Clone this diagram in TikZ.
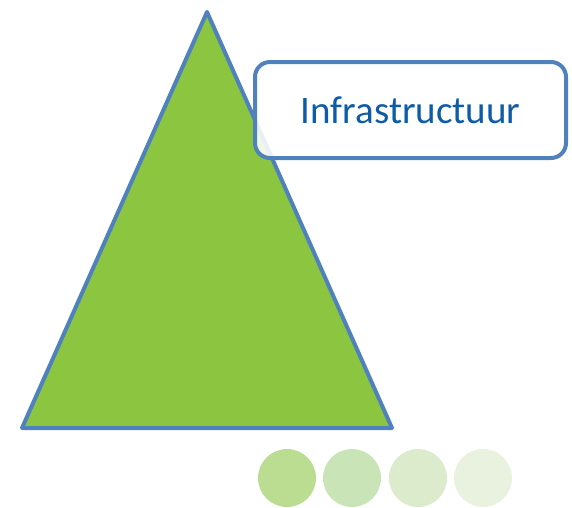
\documentclass[tikz,border=0pt]{standalone}
\usepackage{fontspec}
\setmainfont{Carlito}
\begin{document}
\begin{tikzpicture}[x=1pt,y=-1pt,
  tri/.style={draw=edgeblue,line width=4pt,fill=trigreen,line join=round},
  labelbox/.style={draw=edgeblue,line width=4pt,fill=white,fill opacity=0.88,rounded corners=15pt,minimum width=311pt,minimum height=96pt,text=textblue,text opacity=1,font=\fontsize{39}{44}\selectfont},
  dot/.style={circle,minimum size=58pt,inner sep=0pt}]
\definecolor{edgeblue}{HTML}{4F81BD}
\definecolor{trigreen}{HTML}{8CC540}
\definecolor{textblue}{HTML}{0E5CA8}
\definecolor{c1}{HTML}{BBDD92}
\definecolor{c2}{HTML}{C9E4B6}
\definecolor{c3}{HTML}{DBEBCB}
\definecolor{c4}{HTML}{E9F2DF}
\useasboundingbox (0,0) rectangle (572,507);
\coordinate (apex) at (207,12);
\coordinate (bl) at (22,428);
\coordinate (br) at (392,428);
\draw[tri] (apex) -- (br) -- (bl) -- cycle;
\node[labelbox] (box) at (410.5,110) {Infrastructuur};
\node[dot,fill=c1] (d1) at (287,478) {};
\node[dot,fill=c2] (d2) at (352,478) {};
\node[dot,fill=c3] (d3) at (418,478) {};
\node[dot,fill=c4] (d4) at (483,478) {};
\end{tikzpicture}
\end{document}
